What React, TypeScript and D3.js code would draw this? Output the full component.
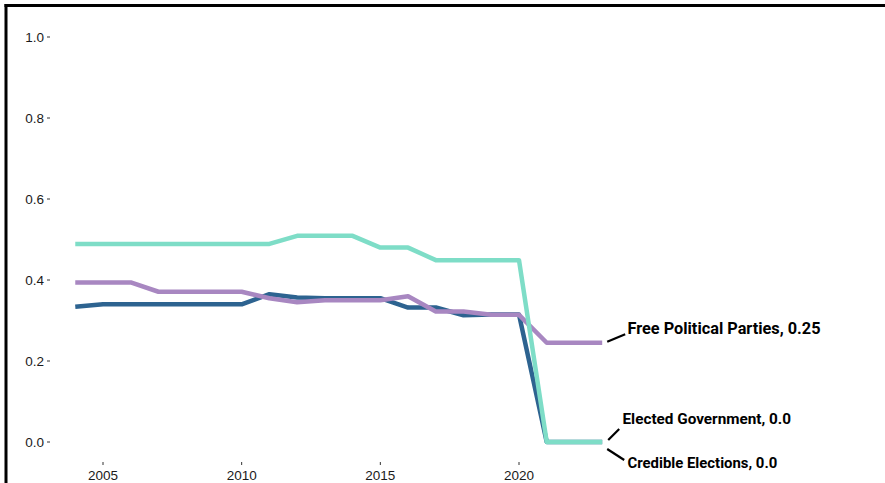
import React from "react";
import * as d3 from "d3";

const years = [2004,2005,2006,2007,2008,2009,2010,2011,2012,2013,2014,2015,2016,2017,2018,2019,2020,2021,2022,2023];
const electedGovernment = [0.334,0.34,0.34,0.34,0.34,0.34,0.34,0.365,0.357,0.355,0.355,0.355,0.332,0.332,0.313,0.315,0.315,0,0,0];
const freePoliticalParties = [0.394,0.394,0.394,0.371,0.371,0.371,0.371,0.355,0.345,0.35,0.35,0.35,0.36,0.322,0.322,0.314,0.314,0.245,0.245,0.245];
const credibleElections = [0.489,0.489,0.489,0.489,0.489,0.489,0.489,0.489,0.509,0.509,0.509,0.48,0.48,0.449,0.449,0.449,0.449,0,0,0];
const yTicks = [0, 0.2, 0.4, 0.6, 0.8, 1.0];
const xTicks = [2005, 2010, 2015, 2020];

const seriesList = [
  { name: "Elected Government", values: electedGovernment, color: "#2D6390", label: "Elected Government, 0.0" },
  { name: "Free Political Parties", values: freePoliticalParties, color: "#A887C1", label: "Free Political Parties, 0.25" },
  { name: "Credible Elections", values: credibleElections, color: "#7EDDC7", label: "Credible Elections, 0.0" },
];

export default function App() {
  const W = 885, H = 483;
  const x = d3.scaleLinear().domain([2005, 2020]).range([103, 519]);
  const y = d3.scaleLinear().domain([0, 1]).range([442, 37]);
  const line = d3.line<number>().x((_, i) => x(years[i])).y((v) => y(v));
  const lastX = x(years[years.length - 1]);
  const panelLeft = 50;
  const panelBottom = 462;

  const labels = [
    { s: seriesList[1], fs: 16.3, dx: 25.3, ty: -8.8, lx1: 5, ly1: -1, lx2: 23, ly2: -8.5 },
    { s: seriesList[0], fs: 15.3, dx: 20.3, ty: -18, lx1: 6, ly1: -2, lx2: 17, ly2: -13 },
    { s: seriesList[2], fs: 14.9, dx: 25.3, ty: 26.3, lx1: 5, ly1: 7, lx2: 22, ly2: 18 },
  ];

  return (
    <div style={{ position: "absolute", left: 0, top: 0 }}>
      <svg width={W} height={H} style={{ display: "block", background: "#fff" }}>
        <line x1={4.5} x2={W} y1={5.5} y2={5.5} stroke="#000" strokeWidth={3} />
        <line x1={6} x2={6} y1={4} y2={H} stroke="#000" strokeWidth={3} />
        <g fontFamily="Liberation Sans, Arial, sans-serif" fontSize={13.5} fill="#1a1a1a">
          {yTicks.map((t) => (
            <g key={t}>
              <line x1={panelLeft - 3} x2={panelLeft} y1={y(t)} y2={y(t)} stroke="#333" strokeWidth={1} />
              <text x={panelLeft - 6} y={y(t)} dy="0.35em" textAnchor="end">{t.toFixed(1)}</text>
            </g>
          ))}
          {xTicks.map((t) => (
            <g key={t}>
              <line x1={x(t)} x2={x(t)} y1={panelBottom} y2={panelBottom + 3} stroke="#333" strokeWidth={1} />
              <text x={x(t)} y={panelBottom + 18} textAnchor="middle">{t}</text>
            </g>
          ))}
        </g>
        {seriesList.map((s) => (
          <path key={s.name} d={line(s.values) || ""} fill="none" stroke={s.color} strokeWidth={4.5} strokeLinejoin="round" />
        ))}
        <g fontFamily="Roboto, sans-serif" fontWeight="bold" fill="#000">
          {labels.map((l) => {
            const vy = y(l.s.values[l.s.values.length - 1]);
            return (
              <g key={l.s.name}>
                <line x1={lastX + l.lx1} y1={vy + l.ly1} x2={lastX + l.lx2} y2={vy + l.ly2} stroke="#000" strokeWidth={2.2} />
                <text x={lastX + l.dx} y={vy + l.ty} fontSize={l.fs}>{l.s.label}</text>
              </g>
            );
          })}
        </g>
      </svg>
    </div>
  );
}
